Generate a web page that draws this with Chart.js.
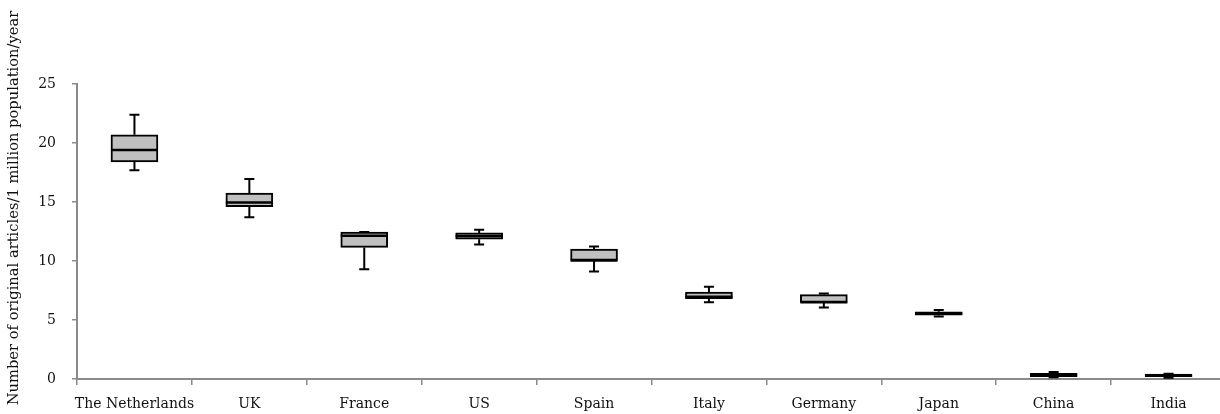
<!DOCTYPE html>
<html>
<head>
<meta charset="utf-8">
<script src="https://cdn.jsdelivr.net/npm/chart.js@4"></script>
<style>
  body { margin: 0; overflow: hidden; background: #fff; }
  #wrap { position: relative; width: 1228px; height: 414px; }
</style>
</head>
<body>
<div id="wrap"><canvas id="boxChart"></canvas></div>
<script>
// datos
const countries = ['The Netherlands', 'UK', 'France', 'US', 'Spain', 'Italy', 'Germany', 'Japan', 'China', 'India'];
const minVals    = [17.7, 13.7, 9.3, 11.4, 9.1, 6.5, 6.05, 5.3, 0.15, 0.1];
const q1Vals     = [18.4, 14.6, 11.15, 11.85, 10.05, 6.8, 6.5, 5.4, 0.2, 0.2];
const medianVals = [19.4, 14.95, 12.15, 12.12, 10.05, 6.97, 6.5, 5.55, 0.33, 0.3];
const q3Vals     = [20.7, 15.75, 12.45, 12.38, 11.0, 7.37, 7.15, 5.7, 0.47, 0.42];
const maxVals    = [22.4, 16.95, 12.45, 12.65, 11.22, 7.82, 7.25, 5.85, 0.6, 0.44];
const yTicks     = [0, 5, 10, 15, 20, 25];
const yTitle = 'Number of original articles/1 million population/year';

const axisColor = '#8a8a8a';
const fontFam = "'DejaVu Serif', serif";

// bigotes, topes y mediana
const whiskerPlugin = {
    id: 'whiskers',
    afterDatasetsDraw(chart) {
        const ctx = chart.ctx;
        const x = chart.scales.x;
        const y = chart.scales.y;
        const meta = chart.getDatasetMeta(0);
        ctx.save();
        ctx.strokeStyle = '#000';
        ctx.lineWidth = 2;
        countries.forEach((c, i) => {
            const cx = x.getPixelForValue(i);
            const half = meta.data[i].width / 2;
            const cap = 5;
            ctx.beginPath();
            // bigote superior
            ctx.moveTo(cx, y.getPixelForValue(q3Vals[i]));
            ctx.lineTo(cx, y.getPixelForValue(maxVals[i]));
            ctx.moveTo(cx - cap, y.getPixelForValue(maxVals[i]));
            ctx.lineTo(cx + cap, y.getPixelForValue(maxVals[i]));
            // bigote inferior
            ctx.moveTo(cx, y.getPixelForValue(q1Vals[i]));
            ctx.lineTo(cx, y.getPixelForValue(minVals[i]));
            ctx.moveTo(cx - cap, y.getPixelForValue(minVals[i]));
            ctx.lineTo(cx + cap, y.getPixelForValue(minVals[i]));
            ctx.stroke();
            // mediana
            ctx.beginPath();
            ctx.lineWidth = 2.5;
            ctx.moveTo(cx - half, y.getPixelForValue(medianVals[i]));
            ctx.lineTo(cx + half, y.getPixelForValue(medianVals[i]));
            ctx.stroke();
            ctx.lineWidth = 2;
        });
        ctx.restore();
    },
    afterDraw(chart) {
        const ctx = chart.ctx;
        ctx.save();
        ctx.translate(14, 208);
        ctx.rotate(-Math.PI / 2);
        ctx.font = '14.7px ' + fontFam;
        ctx.fillStyle = '#111';
        ctx.textAlign = 'center';
        ctx.textBaseline = 'middle';
        ctx.fillText(yTitle, 0, 0);
        ctx.restore();
    }
};

const boxChart = new Chart(document.getElementById('boxChart'), {
    type: 'bar',
    data: {
        labels: countries,
        datasets: [{
            label: 'box',
            data: countries.map((c, i) => [q1Vals[i], q3Vals[i]]),
            backgroundColor: '#c0c0c0',
            borderColor: '#000',
            borderWidth: 2,
            borderSkipped: false,
            barThickness: 47
        }]
    },
    options: {
        responsive: true,
        maintainAspectRatio: false,
        animation: false,
        layout: { padding: { top: 84, right: 2, bottom: 0, left: 0 } },
        plugins: {
            legend: { display: false },
            tooltip: { enabled: false }
        },
        scales: {
            x: {
                afterFit: (s) => { s.height = 35; },
                grid: {
                    display: true,
                    drawOnChartArea: false,
                    offset: true,
                    tickLength: 6,
                    color: axisColor,
                    lineWidth: 1.5
                },
                border: { color: axisColor, width: 2 },
                ticks: {
                    padding: 11,
                    color: '#111',
                    maxRotation: 0,
                    autoSkip: false,
                    font: { family: fontFam, size: 14 }
                }
            },
            y: {
                min: 0,
                max: 25,
                afterFit: (s) => { s.width = 77; },
                afterBuildTicks: (s) => { s.ticks = yTicks.map(v => ({ value: v })); },
                grid: {
                    display: true,
                    drawOnChartArea: false,
                    tickLength: 5,
                    color: axisColor,
                    lineWidth: 1.5
                },
                border: { color: axisColor, width: 2 },
                ticks: {
                    padding: 16,
                    color: '#111',
                    font: { family: fontFam, size: 14 }
                }
            }
        }
    },
    plugins: [whiskerPlugin]
});
</script>
</body>
</html>
